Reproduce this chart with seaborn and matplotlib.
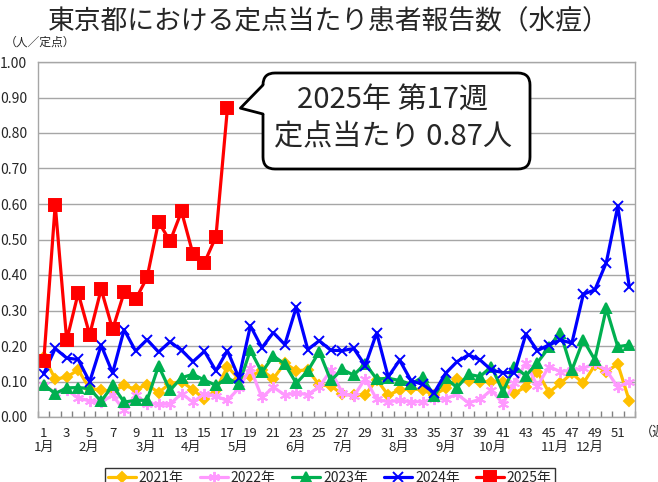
import numpy as np
import pandas as pd
import seaborn as sns
import matplotlib.pyplot as plt
from matplotlib.patches import FancyBboxPatch, Polygon

# データ（週ごとの定点当たり報告数）
weeks = list(range(1, 53))
y2021 = [0.170, 0.107, 0.112, 0.133, 0.080, 0.076, 0.072, 0.089, 0.078, 0.091,
         0.069, 0.094, 0.100, 0.077, 0.050, 0.076, 0.142, 0.107, 0.115, 0.131,
         0.108, 0.152, 0.130, 0.133, 0.090, 0.088, 0.064, 0.062, 0.062, 0.105,
         0.062, 0.076, 0.080, 0.076, 0.062, 0.081, 0.108, 0.102, 0.100, 0.100,
         0.100, 0.067, 0.085, 0.128, 0.069, 0.095, 0.123, 0.095, 0.146, 0.128,
         0.149, 0.046]
y2022 = [0.090, 0.068, 0.076, 0.054, 0.045, 0.042, 0.061, 0.019, 0.061, 0.038,
         0.036, 0.036, 0.066, 0.042, 0.066, 0.058, 0.047, 0.081, 0.137, 0.055,
         0.084, 0.062, 0.068, 0.063, 0.085, 0.131, 0.068, 0.058, 0.108, 0.050,
         0.043, 0.047, 0.043, 0.043, 0.050, 0.052, 0.064, 0.040, 0.050, 0.076,
         0.038, 0.095, 0.153, 0.087, 0.142, 0.128, 0.132, 0.137, 0.151, 0.132,
         0.084, 0.100]
y2023 = [0.091, 0.066, 0.082, 0.083, 0.080, 0.044, 0.089, 0.042, 0.047, 0.047,
         0.144, 0.075, 0.111, 0.120, 0.104, 0.089, 0.110, 0.092, 0.188, 0.126,
         0.172, 0.149, 0.095, 0.130, 0.184, 0.103, 0.134, 0.118, 0.150, 0.107,
         0.109, 0.103, 0.092, 0.113, 0.059, 0.110, 0.083, 0.120, 0.114, 0.142,
         0.071, 0.142, 0.116, 0.153, 0.196, 0.238, 0.132, 0.217, 0.161, 0.306,
         0.198, 0.203]
y2024 = [0.122, 0.193, 0.166, 0.162, 0.099, 0.202, 0.124, 0.246, 0.186, 0.218,
         0.183, 0.212, 0.188, 0.156, 0.185, 0.130, 0.187, 0.110, 0.257, 0.195,
         0.238, 0.204, 0.310, 0.190, 0.215, 0.188, 0.187, 0.193, 0.145, 0.237,
         0.113, 0.160, 0.102, 0.092, 0.068, 0.123, 0.156, 0.175, 0.161, 0.132,
         0.125, 0.125, 0.234, 0.187, 0.203, 0.217, 0.208, 0.346, 0.358, 0.435,
         0.594, 0.367]
y2025 = [0.157, 0.598, 0.216, 0.349, 0.232, 0.360, 0.247, 0.351, 0.331, 0.393,
         0.550, 0.495, 0.579, 0.459, 0.435, 0.508, 0.870]

years = ['2021年', '2022年', '2023年', '2024年', '2025年']
series = [y2021, y2022, y2023, y2024, y2025]
colors = ['#FFC000', '#FF99FF', '#00B050', '#0000FF', '#FF0000']
markers = ['D', (6, 2, 0), '^', 'x', 's']
msizes = [5.5, 8, 7, 7, 9]

week_ticks = list(range(1, 52, 2))
month_labels = ['1月', '2月', '3月', '4月', '5月', '6月', '7月', '8月', '9月', '10月', '11月', '12月']
month_pos = [1, 4.9, 9.9, 13.85, 17.9, 22.9, 27, 31.9, 36, 40.1, 45.5, 48.6]

rows = []
for name, vals in zip(years, series):
    for w, v in zip(weeks, vals):
        rows.append({'year': name, 'week': w, 'value': v})
df = pd.DataFrame(rows)

sns.set_theme(style='white')
plt.rcParams['font.family'] = ['Noto Sans CJK JP', 'DejaVu Sans']

fig = plt.figure(figsize=(6.58, 4.82), dpi=100)
ax = fig.add_axes([38/658, 1-417/482, (635-38)/658, (417-62)/482])

for name, c, m, ms in zip(years, colors, markers, msizes):
    d = df[df['year'] == name]
    sns.lineplot(data=d, x='week', y='value', ax=ax, color=c, marker=m,
                 markersize=ms, markeredgecolor=c, markeredgewidth=1.4,
                 linewidth=2.3, label=name, legend=False)

ax.set_xlim(0.5, 52.5)
ax.set_ylim(0, 1.0)
ax.set_yticks(np.arange(0, 1.01, 0.1))
ax.set_yticklabels(['%.2f' % t for t in np.arange(0, 1.01, 0.1)], fontsize=10)
ax.set_xticks(week_ticks)
ax.set_xticklabels([str(w) for w in week_ticks], fontsize=9.5)
ax.set_xticks(np.arange(0.5, 53, 1), minor=True)
ax.tick_params(axis='x', which='major', length=0, pad=7)
ax.tick_params(axis='x', which='minor', direction='in', length=4, color='#808080', bottom=True)
ax.tick_params(axis='y', length=0, pad=8)
ax.set_xlabel('')
ax.set_ylabel('')
ax.yaxis.grid(True, color='#A6A6A6', linewidth=1)
ax.xaxis.grid(False)
for s in ax.spines.values():
    s.set_color('#A6A6A6')
    s.set_linewidth(1)

# 月ラベル
for lab, p in zip(month_labels, month_pos):
    ax.text(p, -0.087, lab, transform=ax.get_xaxis_transform(),
            ha='center', va='center', fontsize=9.5)
ax.text(1.008, -0.043, '（週）', transform=ax.transAxes, ha='left', va='center', fontsize=9.5)

fig.text(0.5, 1-22/482, '東京都における定点当たり患者報告数（水痘）',
         ha='center', va='center', fontsize=19.3)
fig.text(5/658, 1-42/482, '（人／定点）', ha='left', va='center', fontsize=8.5)

# 吹き出し
ov = fig.add_axes([0, 0, 1, 1], zorder=5)
ov.set_xlim(0, 658)
ov.set_ylim(482, 0)
ov.axis('off')
ov.patch.set_alpha(0)
box = FancyBboxPatch((263, 73), 267, 96, boxstyle='round,pad=0,rounding_size=12',
                     fc='white', ec='black', lw=2)
ov.add_patch(box)
px, py = ax.transData.transform((17, y2025[16]))
tip = (px + 13, 482 - py)
ov.add_patch(Polygon([(261, 85), tip, (261, 114), (266, 114), (266, 85)],
                     closed=True, fc='white', ec='none'))
ov.plot([263, tip[0], 263], [85, tip[1], 114], color='black', lw=2)
ov.text(393, 101, '2025年 第17週', ha='center', va='center', fontsize=21)
ov.text(393, 137, '定点当たり 0.87人', ha='center', va='center', fontsize=21)

handles, labels = ax.get_legend_handles_labels()
leg = fig.legend(handles, labels, loc='upper center', bbox_to_anchor=(330/658, 1-461/482),
                 ncol=5, frameon=True, fancybox=False, edgecolor='black', fontsize=10,
                 handlelength=2.0, columnspacing=1.2, borderpad=0.2, handletextpad=0.2)
leg.get_frame().set_linewidth(1)

fig.savefig('out.png', dpi=100)
